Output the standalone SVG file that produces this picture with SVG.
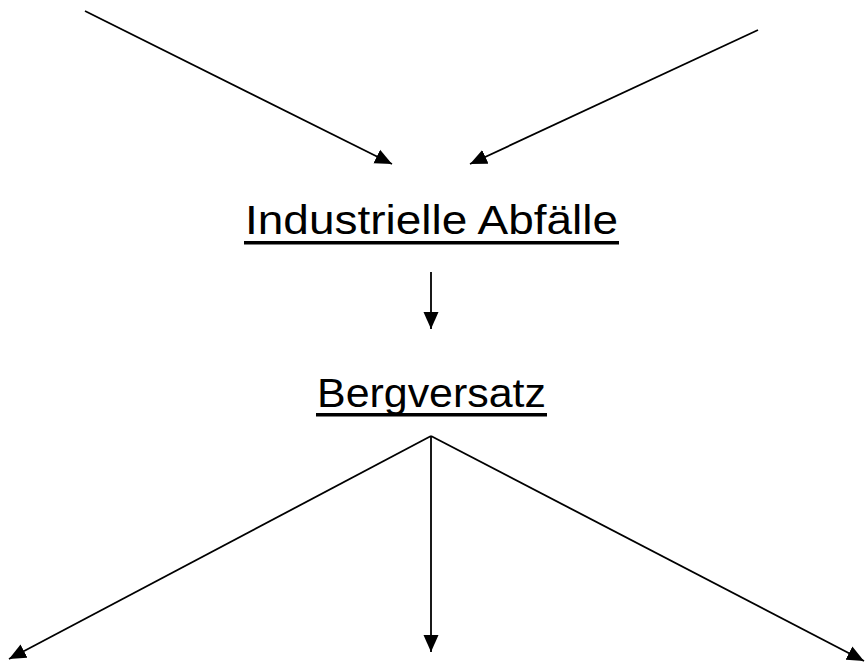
<svg xmlns="http://www.w3.org/2000/svg" width="866" height="669" viewBox="0 0 866 669">
  <style>
    .lbl { font-family: "Liberation Sans", Arial, sans-serif; font-size: 40px; fill: #000; }
    .ul { fill: #000; }
    .edge { stroke: #000; stroke-width: 1.8; fill: none; marker-end: url(#head); }
  </style>
  <defs>
    <marker id="head" markerUnits="userSpaceOnUse" markerWidth="18" markerHeight="16" viewBox="0 0 18 16" refX="17" refY="8" orient="auto">
      <path d="M0,0.5 L17,8 L0,15.5 Z" fill="#000"/>
    </marker>
  </defs>
  <rect width="866" height="669" fill="#fff"/>

  <g id="connectors">
    <line class="edge" x1="85" y1="11" x2="392" y2="164"/>
    <line class="edge" x1="758" y1="30" x2="470" y2="164"/>
    <line class="edge" x1="431" y1="272" x2="431" y2="329"/>
    <line class="edge" x1="431" y1="436" x2="9" y2="659"/>
    <line class="edge" x1="431" y1="436" x2="431" y2="652"/>
    <line class="edge" x1="431" y1="436" x2="864" y2="661"/>
  </g>

  <g id="industrielle-abfaelle">
    <text class="lbl" x="245" y="234" textLength="373" lengthAdjust="spacingAndGlyphs">Industrielle Abfälle</text>
    <rect class="ul" x="244" y="241" width="375" height="3.5"/>
  </g>

  <g id="bergversatz">
    <text class="lbl" x="317" y="407" textLength="229" lengthAdjust="spacingAndGlyphs">Bergversatz</text>
    <rect class="ul" x="316" y="413" width="231" height="3.5"/>
  </g>
</svg>
